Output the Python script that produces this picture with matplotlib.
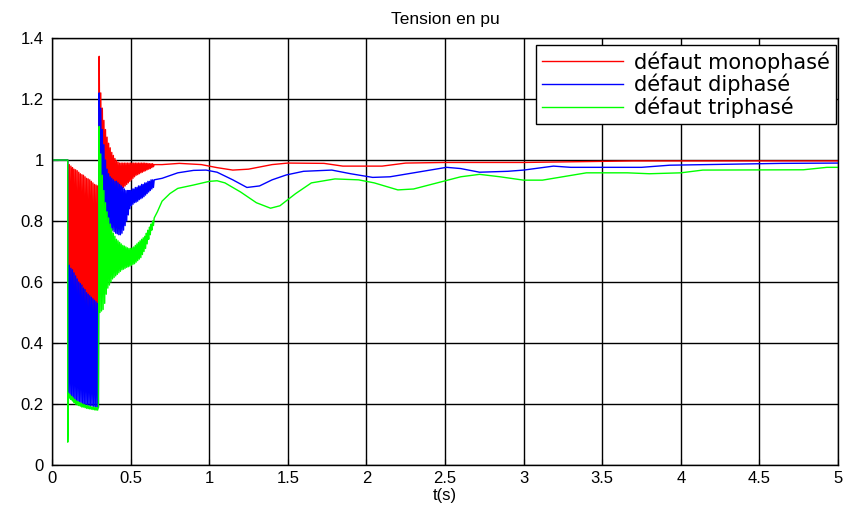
import numpy as np
import matplotlib.pyplot as plt

plt.rcParams['font.family'] = ['Liberation Sans', 'DejaVu Sans']

# avant le défaut : tension nominale
t_pre = [0.0, 0.1]
v_pre = [1.0, 1.0]

# pendant le défaut (0.1 s -> 0.3 s), échantillons toutes les 5 ms
# (pair = 0.100, 0.110, ... ; impair = 0.105, 0.115, ...)
t_fault = np.round(np.arange(0.100, 0.2999, 0.005), 3)
mono_fault_pair = [0.99, 0.985, 0.98, 0.975, 0.97, 0.968, 0.965, 0.96, 0.955, 0.952,
                   0.95, 0.945, 0.94, 0.938, 0.935, 0.93, 0.925, 0.92, 0.918, 0.915]
mono_fault_impair = [0.62, 0.52, 0.58, 0.45, 0.55, 0.48, 0.40, 0.53, 0.44, 0.50,
                     0.37, 0.47, 0.42, 0.36, 0.48, 0.40, 0.35, 0.45, 0.38, 0.52]
di_fault_pair = [0.665, 0.655, 0.645, 0.64, 0.63, 0.62, 0.61, 0.60, 0.595, 0.59,
                 0.58, 0.575, 0.565, 0.56, 0.555, 0.55, 0.545, 0.54, 0.535, 0.53]
di_fault_impair = [0.225, 0.22, 0.218, 0.215, 0.212, 0.21, 0.208, 0.205, 0.203, 0.20,
                   0.20, 0.198, 0.197, 0.195, 0.195, 0.193, 0.192, 0.19, 0.19, 0.188]
tri_fault_pair = [0.075, 0.22, 0.215, 0.21, 0.205, 0.20, 0.197, 0.195, 0.193, 0.19,
                  0.19, 0.188, 0.186, 0.185, 0.184, 0.183, 0.182, 0.181, 0.18, 0.18]
tri_fault_impair = [0.235, 0.23, 0.225, 0.22, 0.215, 0.21, 0.208, 0.205, 0.203, 0.20,
                    0.198, 0.196, 0.195, 0.193, 0.192, 0.19, 0.19, 0.188, 0.188, 0.19]

# après élimination du défaut (0.3 s -> 0.65 s), oscillations amorties
t_post = np.round(np.arange(0.300, 0.6499, 0.005), 3)
mono_post_pair = [1.34, 1.22, 1.17, 1.13, 1.10, 1.075, 1.055, 1.04, 1.025, 1.015,
                  1.005, 0.998, 0.993, 0.99, 0.99, 0.99, 0.99, 0.99, 0.99, 0.99,
                  0.99, 0.99, 0.99, 0.99, 0.99, 0.99, 0.99, 0.99, 0.99, 0.99,
                  0.989, 0.989, 0.988, 0.988, 0.988]
mono_post_impair = [0.93, 0.925, 0.92, 0.915, 0.91, 0.91, 0.905, 0.90, 0.90, 0.898,
                    0.895, 0.895, 0.897, 0.90, 0.905, 0.91, 0.915, 0.92, 0.925, 0.93,
                    0.935, 0.94, 0.945, 0.95, 0.952, 0.955, 0.958, 0.96, 0.963, 0.965,
                    0.968, 0.97, 0.972, 0.975, 0.978]
di_post_pair = [1.22, 1.17, 1.10, 1.05, 1.00, 0.97, 0.955, 0.945, 0.94, 0.935,
                0.93, 0.93, 0.925, 0.92, 0.915, 0.91, 0.905, 0.90, 0.90, 0.90,
                0.90, 0.905, 0.905, 0.91, 0.91, 0.915, 0.915, 0.92, 0.92, 0.925,
                0.925, 0.93, 0.93, 0.935, 0.935]
di_post_impair = [0.82, 0.81, 0.80, 0.795, 0.79, 0.785, 0.78, 0.775, 0.77, 0.765,
                  0.76, 0.758, 0.755, 0.755, 0.76, 0.77, 0.785, 0.80, 0.82, 0.84,
                  0.85, 0.855, 0.86, 0.862, 0.865, 0.87, 0.873, 0.876, 0.88, 0.885,
                  0.89, 0.895, 0.90, 0.905, 0.91]
tri_post_pair = [1.11, 1.02, 0.95, 0.90, 0.86, 0.83, 0.81, 0.79, 0.775, 0.76,
                 0.75, 0.74, 0.735, 0.73, 0.725, 0.72, 0.718, 0.715, 0.712, 0.71,
                 0.71, 0.712, 0.715, 0.72, 0.725, 0.73, 0.735, 0.74, 0.745, 0.75,
                 0.76, 0.77, 0.78, 0.79, 0.80]
tri_post_impair = [0.50, 0.505, 0.51, 0.53, 0.56, 0.58, 0.59, 0.60, 0.61, 0.615,
                   0.62, 0.625, 0.63, 0.635, 0.64, 0.642, 0.645, 0.648, 0.65, 0.652,
                   0.655, 0.658, 0.66, 0.665, 0.67, 0.675, 0.68, 0.69, 0.70, 0.71,
                   0.725, 0.74, 0.755, 0.77, 0.785]

# régime lent jusqu'à 5 s
t_mono_end = [0.65, 0.70, 0.81, 0.95, 1.05, 1.15, 1.25, 1.40, 1.50, 1.73,
              1.85, 2.10, 2.25, 2.50, 3.00, 3.70, 5.00]
v_mono_end = [0.985, 0.985, 0.989, 0.985, 0.975, 0.967, 0.97, 0.985, 0.99, 0.989,
              0.98, 0.98, 0.99, 0.992, 0.992, 0.997, 0.997]

t_di_end = [0.65, 0.70, 0.80, 0.90, 0.98, 1.05, 1.15, 1.24, 1.32, 1.40,
            1.49, 1.60, 1.78, 1.90, 2.04, 2.15, 2.30, 2.51, 2.60, 2.72,
            2.90, 3.00, 3.19, 3.30, 3.75, 3.93, 4.64, 5.00]
v_di_end = [0.935, 0.94, 0.958, 0.966, 0.967, 0.96, 0.935, 0.91, 0.915, 0.935,
            0.951, 0.963, 0.967, 0.955, 0.943, 0.945, 0.958, 0.976, 0.972, 0.96,
            0.963, 0.967, 0.98, 0.976, 0.976, 0.983, 0.989, 0.99]

t_tri_end = [0.65, 0.67, 0.70, 0.75, 0.80, 0.90, 1.00, 1.05, 1.10, 1.20,
             1.30, 1.39, 1.45, 1.55, 1.65, 1.80, 1.95, 2.05, 2.20, 2.30,
             2.45, 2.60, 2.72, 2.85, 3.00, 3.12, 3.25, 3.40, 3.66, 3.80,
             4.00, 4.14, 4.78, 4.93, 5.00]
v_tri_end = [0.81, 0.83, 0.865, 0.89, 0.907, 0.918, 0.93, 0.932, 0.925, 0.895,
             0.86, 0.842, 0.85, 0.89, 0.925, 0.938, 0.935, 0.925, 0.902, 0.905,
             0.925, 0.945, 0.953, 0.945, 0.934, 0.934, 0.945, 0.958, 0.958, 0.955,
             0.958, 0.967, 0.968, 0.976, 0.976]


def entrelacer(pair, impair):
    v = np.empty(len(pair) + len(impair))
    v[0::2] = pair
    v[1::2] = impair
    return v


def serie(f_pair, f_impair, p_pair, p_impair, t_end, v_end):
    t = np.concatenate([t_pre, t_fault, t_post, t_end])
    v = np.concatenate([v_pre, entrelacer(f_pair, f_impair),
                        entrelacer(p_pair, p_impair), v_end])
    return t, v


fig = plt.figure(figsize=(8.46, 5.11), dpi=100)
ax = fig.add_axes([0.0615, 0.09, 0.929, 0.8356])

t, v = serie(mono_fault_pair, mono_fault_impair, mono_post_pair, mono_post_impair,
             t_mono_end, v_mono_end)
ax.plot(t, v, color=(1, 0, 0), lw=1.0, label='défaut monophasé')
t, v = serie(di_fault_pair, di_fault_impair, di_post_pair, di_post_impair,
             t_di_end, v_di_end)
ax.plot(t, v, color=(0, 0, 1), lw=1.0, label='défaut diphasé')
t, v = serie(tri_fault_pair, tri_fault_impair, tri_post_pair, tri_post_impair,
             t_tri_end, v_tri_end)
ax.plot(t, v, color=(0, 1, 0), lw=1.0, label='défaut triphasé')

ax.set_xlim(0, 5)
ax.set_ylim(0, 1.4)
ax.set_xticks(np.arange(0, 5.01, 0.5))
ax.set_xticklabels(['0', '0.5', '1', '1.5', '2', '2.5', '3', '3.5', '4', '4.5', '5'])
ax.set_yticks(np.arange(0, 1.41, 0.2))
ax.set_yticklabels(['0', '0.2', '0.4', '0.6', '0.8', '1', '1.2', '1.4'])
ax.tick_params(direction='in', labelsize=12, length=4, color='black')
ax.tick_params(axis='y', pad=6)
ax.tick_params(axis='x', pad=4.5)
ax.grid(True, color='black', linestyle='-', linewidth=1.0)
for s in ax.spines.values():
    s.set_linewidth(1.0)

ax.set_title('Tension en pu', fontsize=12.5, pad=10)
ax.set_xlabel('t(s)', fontsize=12, labelpad=1)

leg = ax.legend(loc='upper right', bbox_to_anchor=(836 / 846, 1 - 45 / 511),
                bbox_transform=fig.transFigure, borderaxespad=0,
                prop={'family': 'DejaVu Sans', 'size': 15},
                fancybox=False, framealpha=1, edgecolor='black',
                handlelength=3.9, labelspacing=0.05, borderpad=0.3,
                handletextpad=0.5)
leg.get_frame().set_linewidth(1.0)

fig.savefig('out.png', dpi=100)
